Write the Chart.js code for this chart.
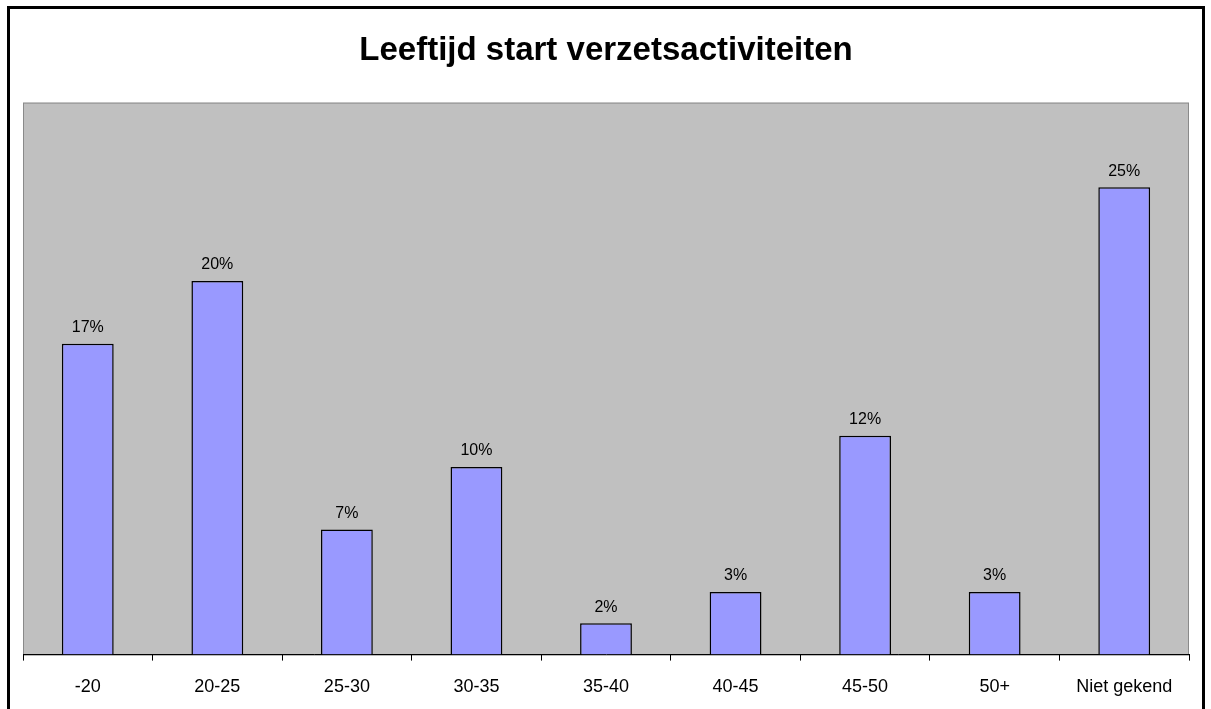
<!DOCTYPE html>
<html>
<head>
<meta charset="utf-8">
<script src="https://cdn.jsdelivr.net/npm/chart.js@4"></script>
<style>
  html, body { margin: 0; padding: 0; background: #fff; overflow: hidden; }
  #kader {
    position: absolute; left: 7px; top: 6px; width: 1192px; height: 720px;
    border: 3px solid #000; box-sizing: content-box;
  }
  #wrap { position: absolute; left: 0; top: 0; width: 1211px; height: 709px; }
</style>
</head>
<body>
<div id="kader"></div>
<div id="wrap"><canvas id="grafiek" width="1211" height="709"></canvas></div>
<script>
// Leeftijdscategorieën en percentages
const categorieen = ['-20', '20-25', '25-30', '30-35', '35-40', '40-45', '45-50', '50+', 'Niet gekend'];
const percentages = [16.9, 20.3, 6.8, 10.2, 1.7, 3.4, 11.9, 3.4, 25.4];
const titel = 'Leeftijd start verzetsactiviteiten';

// Grijze achtergrond van het plotgebied
const plotAchtergrond = {
  id: 'plotAchtergrond',
  beforeDraw(chart) {
    const { ctx, chartArea: a } = chart;
    ctx.save();
    ctx.fillStyle = '#c0c0c0';
    ctx.fillRect(a.left, a.top, a.right - a.left, a.bottom - a.top);
    ctx.strokeStyle = '#8a8a8a';
    ctx.lineWidth = 1;
    ctx.strokeRect(a.left + 0.5, a.top + 0.5, a.right - a.left - 1, a.bottom - a.top);
    ctx.restore();
  }
};

// Percentages boven de staven
const staafLabels = {
  id: 'staafLabels',
  afterDatasetsDraw(chart) {
    const ctx = chart.ctx;
    const meta = chart.getDatasetMeta(0);
    ctx.save();
    ctx.font = '16px "Liberation Sans", Arial, sans-serif';
    ctx.fillStyle = '#000';
    ctx.textAlign = 'center';
    ctx.textBaseline = 'middle';
    meta.data.forEach((bar, i) => {
      ctx.fillText(Math.round(percentages[i]) + '%', bar.x, bar.y - 16);
    });
    ctx.restore();
  }
};

new Chart(document.getElementById('grafiek'), {
  type: 'bar',
  data: {
    labels: categorieen,
    datasets: [{
      data: percentages,
      backgroundColor: '#9999ff',
      borderColor: '#000',
      borderWidth: 1.5,
      categoryPercentage: 1.0,
      barPercentage: 0.4
    }]
  },
  options: {
    responsive: false,
    animation: false,
    layout: { padding: { left: 23, right: 22, top: 0, bottom: -4 } },
    plugins: {
      legend: { display: false },
      tooltip: { enabled: false },
      title: {
        display: true,
        text: titel,
        color: '#000',
        font: { family: '"Liberation Sans", Arial, sans-serif', size: 33, weight: 'bold' },
        padding: { top: 31, bottom: 32 }
      }
    },
    scales: {
      x: {
        offset: true,
        grid: { offset: true, drawOnChartArea: false, drawTicks: true, tickLength: 6, color: '#000' },
        border: { display: true, color: '#000', width: 1 },
        ticks: {
          color: '#000',
          padding: 19,
          font: { family: '"Liberation Sans", Arial, sans-serif', size: 18, lineHeight: 0.8 }
        }
      },
      y: {
        display: false,
        min: 0,
        max: 30
      }
    }
  },
  plugins: [plotAchtergrond, staafLabels]
});
</script>
</body>
</html>
